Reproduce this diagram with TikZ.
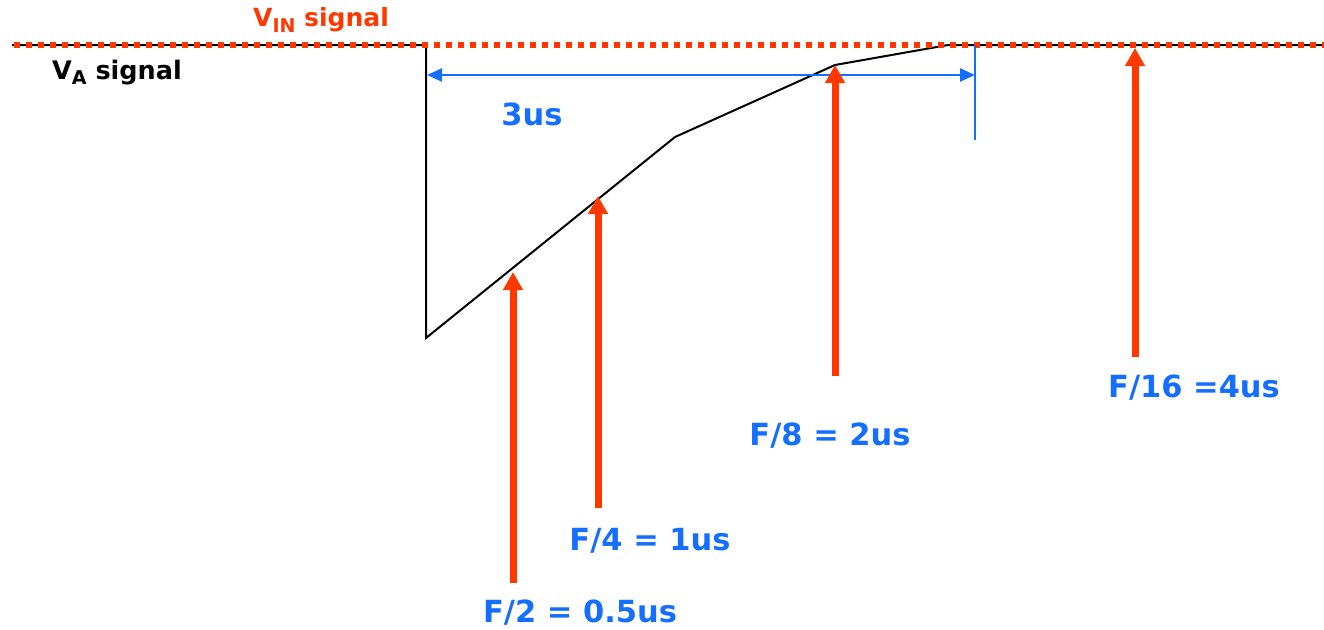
\documentclass[tikz,border=0pt]{standalone}
\usepackage{fontspec}
\setmainfont{DejaVu Sans}
\usetikzlibrary{arrows.meta}
\definecolor{sigred}{RGB}{255,56,0}
\definecolor{sigblue}{RGB}{20,110,255}
\tikzset{
  lbl/.style={font=\bfseries\fontsize{30.5}{35}\selectfont, text=sigblue, inner sep=0pt},
  redarrow/.style={draw=sigred, line width=7pt, -{Triangle[width=19pt,length=18pt]}},
  dimarrow/.style={draw=sigblue, line width=2.5pt, {Triangle[width=13pt,length=15pt]}-{Triangle[width=13pt,length=15pt]}},
  wave/.style={draw=black, line width=2pt, line join=miter},
  vin/.style={draw=sigred, line width=6pt, dash pattern=on 6pt off 6pt}
}
\begin{document}
\begin{tikzpicture}[x=1pt,y=-1pt]
\useasboundingbox (0,0) rectangle (1324,629);
% V_A waveform
\coordinate (w0) at (12,45);
\coordinate (w1) at (426,45);
\coordinate (w2) at (426,338);
\coordinate (w3) at (675,137);
\coordinate (w4) at (835,65);
\coordinate (w5) at (948,45);
\coordinate (w6) at (1324,45);
\draw[wave] (w0) -- (w1) -- (w2) -- (w3) -- (w4) -- (w5) -- (w6);
% V_IN dotted line
\coordinate (v0) at (14,45);
\coordinate (v1) at (1324,45);
\draw[vin] (v0) -- (v1);
% labels of signals
\node[font=\bfseries\fontsize{25}{29}\selectfont, text=sigred, anchor=base west, inner sep=0pt] (vinlbl) at (253,27) {V\raisebox{-0.4ex}{\fontsize{19}{21}\selectfont IN} signal};
\node[font=\bfseries\fontsize{25.5}{29}\selectfont, text=black, anchor=base west, inner sep=0pt] (valbl) at (52,79) {V\raisebox{-0.4ex}{\fontsize{19}{21}\selectfont A} signal};
% 3us dimension
\coordinate (d0) at (427,75);
\coordinate (d1) at (975,75);
\coordinate (t0) at (975,45);
\coordinate (t1) at (975,140);
\draw[sigblue, line width=1.5pt] (t0) -- (t1);
\draw[dimarrow] (d0) -- (d1);
\node[lbl] (three) at (532,114) {3us};
% red arrows
\coordinate (a2b) at (513,583); \coordinate (a2t) at (513,272);
\coordinate (a4b) at (598,508); \coordinate (a4t) at (598,196);
\coordinate (a8b) at (835,376); \coordinate (a8t) at (835,65);
\coordinate (a16b) at (1135,357); \coordinate (a16t) at (1135,48);
\draw[redarrow] (a2b) -- (a2t);
\draw[redarrow] (a4b) -- (a4t);
\draw[redarrow] (a8b) -- (a8t);
\draw[redarrow] (a16b) -- (a16t);
% frequency labels
\node[lbl] (f2) at (580,613) {F/2 = 0.5us};
\node[lbl] (f4) at (650,541) {F/4 = 1us};
\node[lbl] (f8) at (830,436) {F/8 = 2us};
\node[lbl] (f16) at (1194,388) {F/16 =4us};
\end{tikzpicture}
\end{document}
